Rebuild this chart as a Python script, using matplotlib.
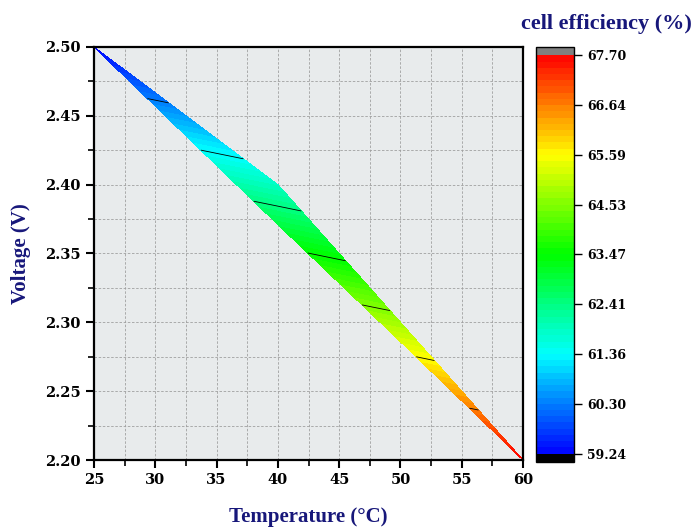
import numpy as np
import matplotlib
matplotlib.use('Agg')
import matplotlib.pyplot as plt
import matplotlib.tri as mtri
from matplotlib.colors import LinearSegmentedColormap
from matplotlib.ticker import MultipleLocator

plt.rcParams['font.family'] = ['Liberation Serif', 'DejaVu Serif']
plt.rcParams['font.weight'] = 'bold'

# measured points (temperature, voltage, efficiency)
temp = [25, 40, 50, 60, 40, 50]
volt = [2.500, 2.400, 2.300, 2.200, 2.371, 2.286]
eff = [59.24, 61.85, 64.78, 67.70, 62.89, 65.28]
tri_idx = [[0, 4, 1], [1, 4, 5], [1, 5, 2], [2, 5, 3]]

cbar_ticks = [59.24, 60.30, 61.36, 62.41, 63.47, 64.53, 65.59, 66.64, 67.70]

navy = '#17177a'

cmap = LinearSegmentedColormap.from_list(
    'origin_rainbow', ['#0000ff', '#00ffff', '#00ff00', '#ffff00', '#ff0000'])
cmap = cmap.with_extremes(over='#808080', under='#000000')

fig = plt.figure(figsize=(6.97, 5.29), dpi=100)
ax = fig.add_axes([0.1349, 0.1304, 0.6155, 0.7808])
ax.set_facecolor('#e8ebec')

tri = mtri.Triangulation(temp, volt, tri_idx)
levels = np.linspace(cbar_ticks[0], cbar_ticks[-1], 65)
cf = ax.tricontourf(tri, eff, levels=levels, cmap=cmap, extend='both', zorder=2)
ax.tricontour(tri, eff, levels=cbar_ticks[1:-1], colors='black', linewidths=0.6, zorder=3)

ax.set_xlim(25, 60)
ax.set_ylim(2.20, 2.50)
ax.xaxis.set_major_locator(MultipleLocator(5))
ax.xaxis.set_minor_locator(MultipleLocator(2.5))
ax.yaxis.set_major_locator(MultipleLocator(0.05))
ax.yaxis.set_minor_locator(MultipleLocator(0.025))
ax.yaxis.set_major_formatter(plt.FormatStrFormatter('%.2f'))
ax.grid(which='both', color='#a0a0a0', linestyle=(0, (3, 2)), linewidth=0.6, zorder=1)
ax.set_axisbelow(True)
ax.tick_params(which='major', direction='out', length=6, width=1.5, labelsize=10.5,
               labelfontfamily='DejaVu Serif')
ax.tick_params(which='minor', direction='out', length=4, width=1.2)
for s in ax.spines.values():
    s.set_linewidth(1.6)

ax.set_xlabel('Temperature (°C)', fontsize=15, color=navy, fontweight='bold', labelpad=14)
ax.set_ylabel('Voltage (V)', fontsize=15, color=navy, fontweight='bold', labelpad=10)

cax = fig.add_axes([0.769, 0.1267, 0.0545, 0.7845])
cb = fig.colorbar(cf, cax=cax, extendrect=True, extendfrac=0.021, ticks=cbar_ticks)
cb.ax.yaxis.set_major_formatter(plt.FormatStrFormatter('%.2f'))
cb.ax.tick_params(labelsize=9, length=6, width=1, labelfontfamily='DejaVu Serif')
cb.ax.minorticks_off()
cb.outline.set_linewidth(1)
fig.text(0.87, 0.955, 'cell efficiency (%)', fontsize=16, color=navy,
         fontweight='bold', ha='center', va='center')

fig.savefig('out.png', dpi=100)
